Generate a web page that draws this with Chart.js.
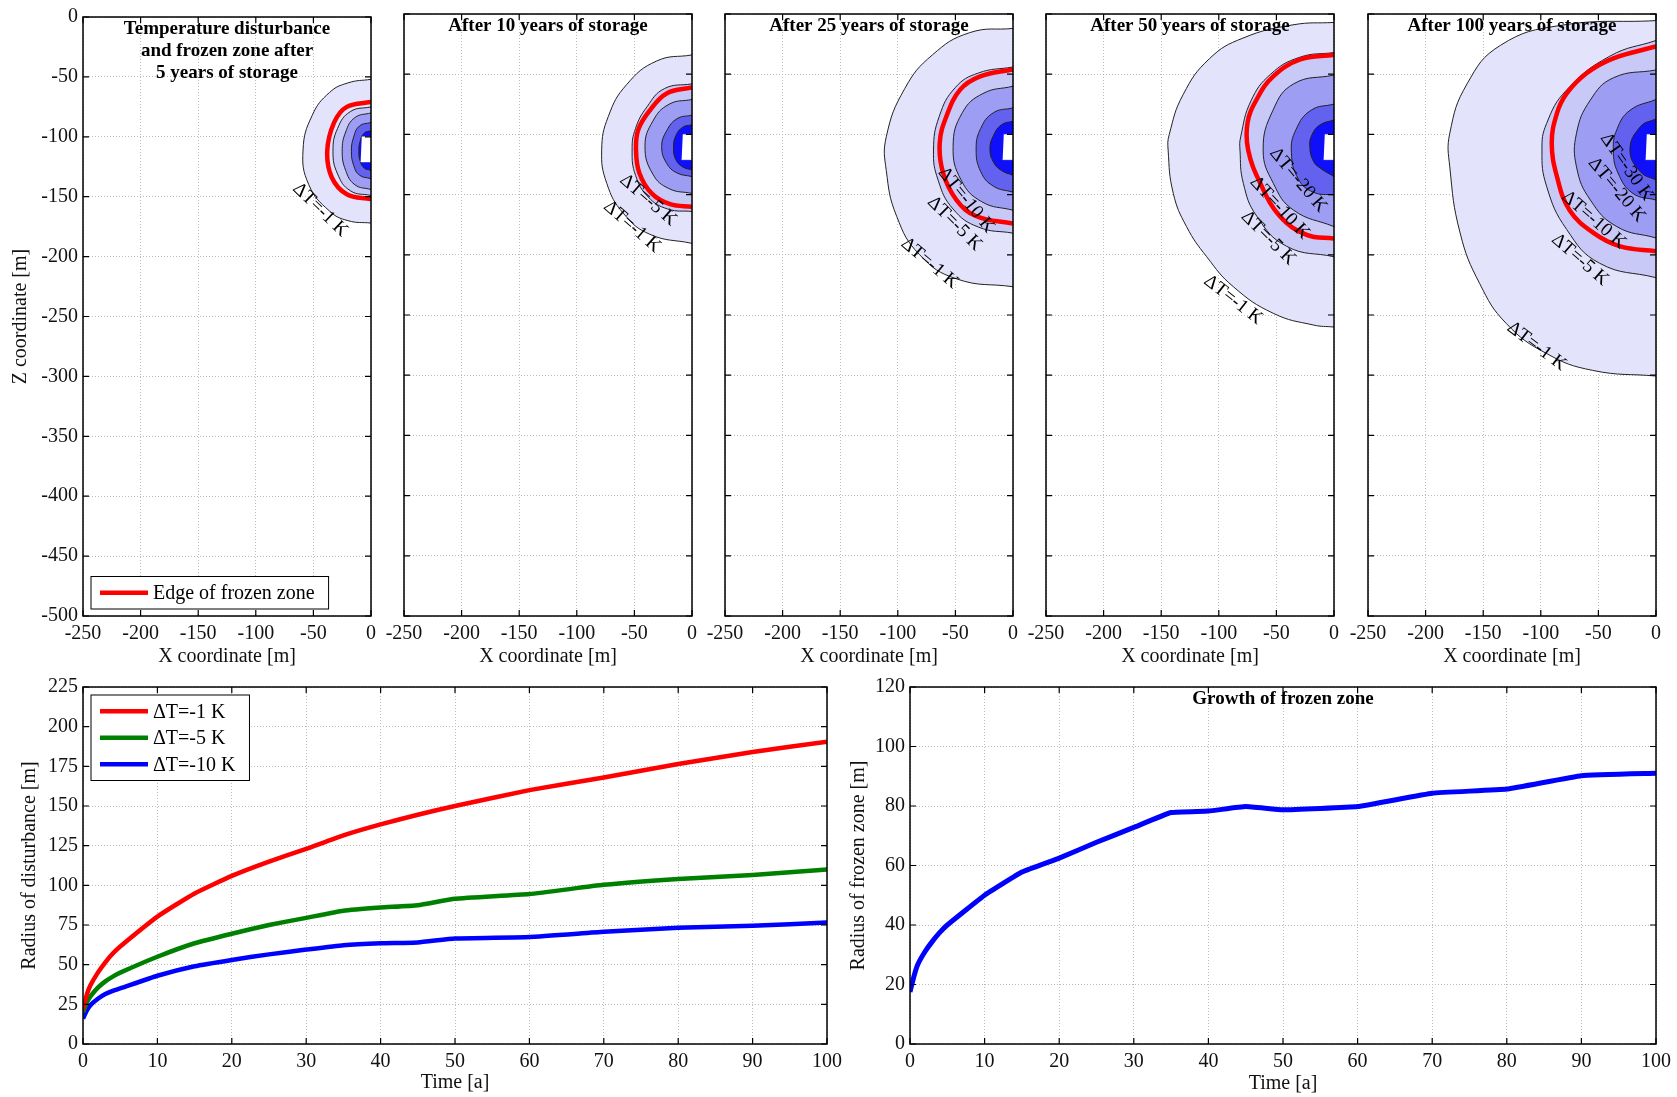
<!DOCTYPE html>
<html>
<head>
<meta charset="utf-8">
<script src="https://cdn.jsdelivr.net/npm/chart.js@4.4.0/dist/chart.umd.min.js"></script>
<style>
  body { margin: 0; background: #fff; width: 1677px; height: 1097px; position: relative; overflow: hidden; }
  canvas { position: absolute; }
</style>
</head>
<body>
<canvas id="p1" width="390" height="680"></canvas>
<canvas id="p2" width="390" height="680"></canvas>
<canvas id="p3" width="390" height="680"></canvas>
<canvas id="p4" width="390" height="680"></canvas>
<canvas id="p5" width="390" height="680"></canvas>
<canvas id="disturbance" width="850" height="427"></canvas>
<canvas id="frozen" width="847" height="427"></canvas>
<script>
// Contour levels and fill colours (outer band first)
const levels = ['ΔT=-1 K', 'ΔT=-5 K', 'ΔT=-10 K', 'ΔT=-20 K', 'ΔT=-30 K'];
const bandColors = ['#e3e3fb', '#c9c9f7', '#9d9df3', '#6262ee', '#0f0ff9'];

// Contour outlines [x, z] in metres (dT = -1, -5, -10, -20, -30 K)
const contours5 = [
    [[0, -52], [-20, -55], [-36, -63], [-51, -82], [-59, -111], [-54, -140], [-36, -162], [-20, -170], [0, -172]],
    [[0, -75], [-18, -79], [-29, -93], [-33, -112], [-29, -131], [-18, -145], [0, -149]],
    [[0, -80], [-14, -84], [-22, -96], [-25, -112], [-22, -128], [-14, -140], [0, -144]],
    [[0, -88], [-10, -91], [-15, -100], [-17, -112], [-15, -124], [-10, -132], [0, -135]],
    [[0, -95], [-6, -97], [-9.5, -104], [-10.5, -112], [-9.5, -120], [-6, -126], [0, -128]]
];
const frozen5 = [[0, -71], [-21, -75], [-32, -88], [-38, -112], [-34, -134], [-21, -148], [0, -152]];

const contours10 = [
    [[0, -34], [-30.6, -39], [-56.7, -58.6], [-72.6, -85], [-78.4, -113], [-74, -140.6], [-59.6, -165.5], [-36.5, -183], [0, -190.5]],
    [[0, -58], [-24, -62], [-39, -77], [-49, -95], [-52, -113], [-49, -134], [-38, -152], [-21, -162], [0, -164]],
    [[0, -71], [-20, -75], [-34, -89], [-40.8, -110], [-34, -133], [-20, -145], [0, -149]],
    [[0, -84], [-13, -87], [-22, -97], [-26.3, -110], [-22, -124], [-13, -132], [0, -135]],
    [[0, -92], [-8, -94], [-14, -101], [-16, -111], [-14, -121], [-8, -127], [0, -129.5]]
];
const frozen10 = [[0, -61], [-22, -66], [-36.5, -80], [-46.6, -96], [-48.6, -113], [-45.7, -132], [-35, -149], [-19, -158], [0, -160]];

const contours25 = [
    [[0, -12], [-37.6, -15.5], [-70, -34], [-94, -62], [-110, -102], [-110, -130], [-101, -168], [-81, -200], [-49, -220], [0, -226.5]],
    [[0, -44], [-30, -49], [-50, -61], [-64, -85], [-69, -113], [-65, -138], [-52, -162], [-30, -177], [0, -182]],
    [[0, -60], [-26, -66], [-44, -82], [-52, -110], [-45, -138], [-27, -156], [0, -163]],
    [[0, -78], [-17, -82], [-28, -95], [-32, -112], [-28, -131], [-17, -143], [0, -148]],
    [[0, -89], [-10, -92], [-17, -101], [-20, -112], [-17, -123], [-10, -130], [0, -134]]
];
const frozen25 = [[0, -46], [-29, -52], [-46, -63], [-57.8, -85], [-63.6, -107], [-60.7, -132], [-49, -154.5], [-31.8, -168], [0, -174]];

const contours50 = [
    [[0, -7], [-35.6, -9], [-79, -20], [-108, -37], [-131, -67], [-143, -100], [-144, -113], [-139.5, -149], [-128, -176.6], [-110.5, -201.6], [-87.4, -226.5], [-52.7, -248.6], [-18, -258.3], [0, -260]],
    [[0, -32], [-30, -36], [-55, -50], [-72, -72], [-81, -102], [-81.6, -113], [-78.7, -140.6], [-67, -168], [-41, -193], [0, -201.6]],
    [[0, -50.7], [-35, -58], [-53, -80], [-61.5, -113], [-52.7, -140.6], [-35.3, -162.8], [0, -176.6]],
    [[0, -74.8], [-20, -80], [-33, -96], [-37, -115], [-31, -137], [-18, -148], [0, -150.3]],
    [[0, -88], [-12, -92], [-19, -100], [-21, -110], [-18, -122], [-12, -128], [0, -135]]
];
const frozen50 = [[0, -34], [-29.8, -38], [-53, -52], [-67.4, -71.4], [-75, -90], [-74.5, -113], [-64, -140.6], [-47, -168], [-23.7, -183.5], [0, -186.5]];

const contours100 = [
    [[0, -5.5], [-83, -9.5], [-135, -26], [-164, -58], [-179, -99], [-179, -127], [-170, -182], [-153, -224], [-130, -257], [-95, -282], [-55, -296], [0, -300.7]],
    [[0, -22], [-40, -35], [-77.5, -63], [-95, -91], [-99, -113], [-95, -143], [-77.5, -179], [-49, -207], [0, -219]],
    [[0, -46.5], [-37, -53], [-57, -71.5], [-69, -99], [-69, -127], [-57, -154.5], [-34, -176.6], [0, -186]],
    [[0, -71], [-22.6, -80], [-34, -96], [-37, -113], [-33, -132], [-20, -149], [0, -154.5]],
    [[0, -87], [-13.6, -93.6], [-22.6, -113], [-13.6, -131], [0, -138]]
];
const frozen100 = [[0, -27], [-37, -36.8], [-60, -49], [-77.5, -66], [-86, -82.5], [-90.5, -107], [-86, -135], [-75, -163], [-54, -182], [-31, -193], [0, -197]];

// Storage cavern (white)
const cavern = [[-8, -100], [0, -100], [0, -121], [-9, -121]];

// Contour labels: [x, z, level index, rotation deg]
const labels5 = [[-44, -161, 0, 44]];
const labels10 = [[-38, -154.5, 1, 41], [-52, -176.6, 0, 41]];
const labels25 = [[-40.5, -154.5, 2, 51], [-50.6, -174, 1, 45], [-72.3, -207, 0, 40]];
const labels50 = [[-31, -138, 3, 50], [-47, -161, 2, 47], [-57, -186, 1, 45], [-87.4, -237.5, 0, 38]];
const labels100 = [[-25.5, -127, 4, 55], [-34, -146, 3, 50], [-54, -171, 2, 41], [-66, -204, 1, 41], [-103.6, -276, 0, 37]];

const panelTitles = [
    ['Temperature disturbance', 'and frozen zone after', '5 years of storage'],
    ['After 10 years of storage'],
    ['After 25 years of storage'],
    ['After 50 years of storage'],
    ['After 100 years of storage']
];

// Axis ticks
const coordXTicks = [-250, -200, -150, -100, -50, 0];
const coordZTicks = [-500, -450, -400, -350, -300, -250, -200, -150, -100, -50, 0];
const timeTicks = [0, 10, 20, 30, 40, 50, 60, 70, 80, 90, 100];
const disturbanceTicks = [0, 25, 50, 75, 100, 125, 150, 175, 200, 225];
const frozenTicks = [0, 20, 40, 60, 80, 100, 120];

// Radius of disturbance vs time
const time = [0, 0.5, 1, 2, 3, 4, 5, 10, 15, 20, 25, 30, 35, 40, 45, 50, 60, 70, 80, 90, 100];
const radius1K = [22, 31, 37, 45, 51.5, 57, 61.5, 80.3, 94.9, 106, 115, 123, 131.5, 138.4, 144.5, 150, 160, 168, 176.5, 184, 190.5];
const radius5K = [20, 26, 30, 35.5, 39.5, 42.5, 45, 55, 63.5, 69.5, 75, 79.5, 84, 86, 87.5, 91.5, 94.5, 100.3, 104, 106.5, 110];
const radius10K = [16, 21, 24.5, 28.5, 31.5, 33.5, 35, 43, 49, 53, 56.5, 59.5, 62.3, 63.5, 64, 66.5, 67.5, 70.7, 73.2, 74.5, 76.5];

// Radius of frozen zone vs time
const frozenRadius = [17.5, 22.5, 26.5, 31, 34.5, 37.5, 40, 50, 57.8, 62.5, 67.8, 72.8, 77.8, 78.3, 79.8, 78.7, 79.8, 84.3, 85.7, 90.2, 91];

Chart.defaults.font.family = '"Liberation Serif", "Times New Roman", serif';
Chart.defaults.font.size = 20;
Chart.defaults.color = '#111';
Chart.defaults.animation = false;

/**
 * Box border with MATLAB-style inward ticks on all four sides
 */
const framePlugin = {
    id: 'frame',
    afterDraw(chart) {
        const { ctx, chartArea: a, scales } = chart;
        ctx.save();
        ctx.strokeStyle = '#000';
        ctx.lineWidth = 1.2;
        ctx.beginPath();
        scales.x.ticks.forEach(t => {
            const px = scales.x.getPixelForValue(t.value);
            ctx.moveTo(px, a.bottom); ctx.lineTo(px, a.bottom - 6);
            ctx.moveTo(px, a.top); ctx.lineTo(px, a.top + 6);
        });
        scales.y.ticks.forEach(t => {
            const py = scales.y.getPixelForValue(t.value);
            ctx.moveTo(a.left, py); ctx.lineTo(a.left + 6, py);
            ctx.moveTo(a.right, py); ctx.lineTo(a.right - 6, py);
        });
        ctx.stroke();
        ctx.lineWidth = 1.5;
        ctx.strokeRect(a.left, a.top, a.width, a.height);
        ctx.restore();
    }
};

/**
 * Bold title lines inside the plot area
 */
const innerTitlePlugin = {
    id: 'innerTitle',
    afterDatasetsDraw(chart, args, opts) {
        if (!opts.lines) return;
        const { ctx, chartArea: a } = chart;
        ctx.save();
        ctx.font = 'bold 19px "Liberation Serif", serif';
        ctx.fillStyle = '#000';
        ctx.textAlign = 'center';
        ctx.textBaseline = 'middle';
        opts.lines.forEach((line, i) => ctx.fillText(line, (a.left + a.right) / 2, a.top + 12 + i * 22));
        ctx.restore();
    }
};

/**
 * Rotated contour labels placed in data coordinates
 */
const contourLabelPlugin = {
    id: 'contourLabels',
    afterDatasetsDraw(chart, args, opts) {
        if (!opts.items) return;
        const { ctx, scales } = chart;
        ctx.save();
        ctx.font = '19px "Liberation Serif", serif';
        ctx.fillStyle = '#000';
        ctx.textAlign = 'center';
        ctx.textBaseline = 'middle';
        opts.items.forEach(([x, z, lvl, rot]) => {
            ctx.save();
            ctx.translate(scales.x.getPixelForValue(x), scales.y.getPixelForValue(z));
            ctx.rotate(rot * Math.PI / 180);
            ctx.fillText(levels[lvl], 0, 0);
            ctx.restore();
        });
        ctx.restore();
    }
};

/**
 * Boxed legend drawn inside the plot area
 */
const boxLegendPlugin = {
    id: 'boxLegend',
    afterDraw(chart, args, opts) {
        if (!opts.items) return;
        const { ctx, chartArea: a } = chart;
        const rowH = 26.5;
        const h = opts.items.length * rowH + 6;
        const x = a.left + 8;
        const y = opts.corner === 'bottom' ? a.bottom - 7 - h : a.top + 8;
        ctx.save();
        ctx.font = '20px "Liberation Serif", serif';
        const textW = Math.max(...opts.items.map(i => ctx.measureText(chart.data.datasets[i].label).width));
        const w = 70 + textW + 6;
        ctx.fillStyle = '#fff';
        ctx.fillRect(x, y, w, h);
        ctx.strokeStyle = '#000';
        ctx.lineWidth = 1;
        ctx.strokeRect(x, y, w, h);
        opts.items.forEach((idx, r) => {
            const ds = chart.data.datasets[idx];
            const cy = y + 3 + rowH * (r + 0.5);
            ctx.strokeStyle = ds.borderColor;
            ctx.lineWidth = 4.5;
            ctx.beginPath();
            ctx.moveTo(x + 9, cy); ctx.lineTo(x + 57, cy);
            ctx.stroke();
            ctx.fillStyle = '#000';
            ctx.textBaseline = 'middle';
            ctx.fillText(ds.label, x + 62, cy + 1);
        });
        ctx.restore();
    }
};

function axis(tickValues, opts) {
    return {
        type: 'linear',
        min: tickValues[0],
        max: tickValues[tickValues.length - 1],
        afterBuildTicks: s => { s.ticks = tickValues.map(v => ({ value: v })); },
        grid: { color: '#bdbdbd', lineWidth: 1, drawTicks: false },
        border: { display: false, dash: [1, 2] },
        ticks: { display: opts.showTicks !== false, padding: opts.pad, color: '#111', font: { size: 20 } },
        title: opts.title
            ? { display: true, text: opts.title, color: '#111', font: { size: 20 }, padding: opts.titlePad }
            : { display: false },
        afterFit: s => { if (s.isHorizontal()) s.height = opts.size; else s.width = opts.size; }
    };
}

const toXY = pts => pts.map(([x, z]) => ({ x, y: z }));

function drawPanel(id, left, contours, frozen, labels, title, first) {
    const canvas = document.getElementById(id);
    canvas.style.left = left + 'px';
    canvas.style.top = '0px';

    const datasets = contours.map((pts, i) => ({
        label: levels[i],
        data: toXY(pts),
        showLine: true,
        fill: 'shape',
        backgroundColor: bandColors[i],
        borderColor: '#222',
        borderWidth: 1,
        pointRadius: 0,
        tension: 0.45,
        order: 20 - i
    }));
    datasets.push({
        label: 'Storage',
        data: toXY(cavern),
        showLine: true,
        fill: 'shape',
        backgroundColor: '#fff',
        borderColor: '#fff',
        borderWidth: 0.5,
        pointRadius: 0,
        order: 2
    });
    datasets.push({
        label: 'Edge of frozen zone',
        data: toXY(frozen),
        showLine: true,
        fill: false,
        borderColor: '#ff0000',
        borderWidth: 4.5,
        pointRadius: 0,
        tension: 0.4,
        order: 1
    });

    new Chart(canvas, {
        type: 'scatter',
        data: { datasets },
        options: {
            responsive: false,
            layout: { padding: { top: 14, right: 22, left: 0, bottom: 0 } },
            scales: {
                x: axis(coordXTicks, { pad: 6, size: 64, title: 'X coordinate [m]', titlePad: { top: 0, bottom: 11 } }),
                y: axis(coordZTicks, {
                    pad: 5, size: 80, showTicks: first,
                    title: first ? 'Z coordinate [m]' : null, titlePad: { top: 6, bottom: 0 }
                })
            },
            plugins: {
                legend: { display: false },
                tooltip: { enabled: false },
                innerTitle: { lines: title },
                contourLabels: { items: labels },
                boxLegend: first ? { items: [datasets.length - 1], corner: 'bottom' } : {}
            }
        },
        plugins: [framePlugin, innerTitlePlugin, contourLabelPlugin, boxLegendPlugin]
    });
}

const panelLefts = [3, 324, 645, 966, 1288];
drawPanel('p1', panelLefts[0], contours5, frozen5, labels5, panelTitles[0], true);
drawPanel('p2', panelLefts[1], contours10, frozen10, labels10, panelTitles[1], false);
drawPanel('p3', panelLefts[2], contours25, frozen25, labels25, panelTitles[2], false);
drawPanel('p4', panelLefts[3], contours50, frozen50, labels50, panelTitles[3], false);
drawPanel('p5', panelLefts[4], contours100, frozen100, labels100, panelTitles[4], false);

const series = (ys) => time.map((t, i) => ({ x: t, y: ys[i] }));

// Radius of disturbance
const distCanvas = document.getElementById('disturbance');
distCanvas.style.left = '0px';
distCanvas.style.top = '670px';
new Chart(distCanvas, {
    type: 'scatter',
    data: {
        datasets: [
            { label: 'ΔT=-1 K', data: series(radius1K), borderColor: '#ff0000' },
            { label: 'ΔT=-5 K', data: series(radius5K), borderColor: '#008000' },
            { label: 'ΔT=-10 K', data: series(radius10K), borderColor: '#0000ff' }
        ].map(ds => Object.assign(ds, { showLine: true, borderWidth: 4.5, pointRadius: 0, tension: 0.15 }))
    },
    options: {
        responsive: false,
        layout: { padding: { top: 13, right: 23, left: 0, bottom: 0 } },
        scales: {
            x: axis(timeTicks, { pad: 6, size: 53, title: 'Time [a]', titlePad: { top: 0, bottom: 2 } }),
            y: axis(disturbanceTicks, { pad: 5, size: 83, title: 'Radius of disturbance [m]', titlePad: { top: 18, bottom: 0 } })
        },
        plugins: {
            legend: { display: false },
            tooltip: { enabled: false },
            boxLegend: { items: [0, 1, 2], corner: 'top' }
        }
    },
    plugins: [framePlugin, boxLegendPlugin]
});

// Growth of frozen zone
const frozenCanvas = document.getElementById('frozen');
frozenCanvas.style.left = '830px';
frozenCanvas.style.top = '670px';
new Chart(frozenCanvas, {
    type: 'scatter',
    data: {
        datasets: [{
            label: 'Frozen zone',
            data: series(frozenRadius),
            borderColor: '#0000ff',
            showLine: true,
            borderWidth: 5,
            pointRadius: 0,
            tension: 0.1
        }]
    },
    options: {
        responsive: false,
        layout: { padding: { top: 13, right: 20, left: 0, bottom: 0 } },
        scales: {
            x: axis(timeTicks, { pad: 6, size: 53, title: 'Time [a]', titlePad: { top: 0, bottom: 1 } }),
            y: axis(frozenTicks, { pad: 5, size: 80, title: 'Radius of frozen zone [m]', titlePad: { top: 17, bottom: 0 } })
        },
        plugins: {
            legend: { display: false },
            tooltip: { enabled: false },
            innerTitle: { lines: ['Growth of frozen zone'] }
        }
    },
    plugins: [framePlugin, innerTitlePlugin]
});
</script>
</body>
</html>
